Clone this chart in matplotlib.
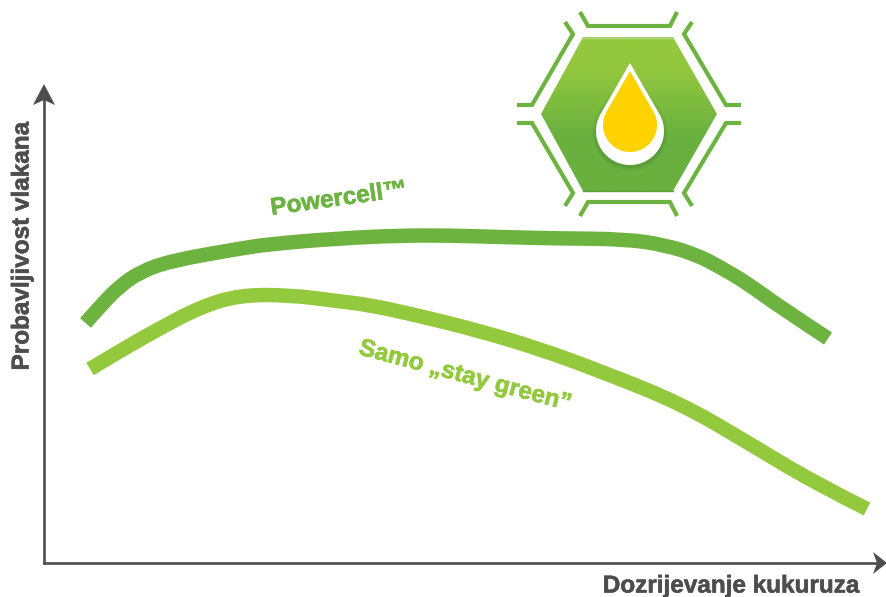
import numpy as np
import matplotlib
matplotlib.use('Agg')
import matplotlib.pyplot as plt
import matplotlib.patheffects as pe
from matplotlib.colors import LinearSegmentedColormap
from matplotlib.patches import Polygon, PathPatch
from matplotlib.path import Path

plt.rcParams['font.family'] = ['Liberation Sans', 'DejaVu Sans']

# curves, in pixels
powercell_x = [85.5, 103, 120, 140, 170, 237, 270, 337, 400, 450, 500, 560, 625, 665, 697, 720, 747, 780, 828]
powercell_y = [323, 303, 286, 272, 261, 249, 244, 238.5, 235.5, 235.5, 237, 238.5, 239, 245, 255, 267, 283, 307, 338.5]
staygreen_x = [90, 120, 153, 200, 240, 290, 337, 370, 420, 480, 540, 600, 680, 747, 813, 867]
staygreen_y = [369, 351, 332, 307, 295, 295, 301, 305, 316, 331, 349, 371, 403, 442, 482, 509]

x_label = 'Dozrijevanje kukuruza'
y_label = 'Probavljivost vlakana'
powercell_label = 'Powercell\u2122'
staygreen_label = 'Samo \u201estay green\u201d'

dark_green = '#6cb33f'
light_green = '#93c93d'
grey = '#4d4d4d'

# icon outline
hexagon = [(541, 114), (583, 37), (673, 37), (717, 114), (673, 191), (583, 191)]
brackets = [
    [(580, 12), (588, 26), (670, 26), (677, 12)],
    [(565, 22), (573, 34), (532, 105), (517, 105)],
    [(692, 22), (684, 34), (726, 105), (741, 105)],
    [(517, 123), (532, 123), (573, 193), (565, 206)],
    [(741, 123), (726, 123), (684, 193), (692, 206)],
    [(580, 216), (588, 202), (670, 202), (677, 216)],
]


def drop(tip_y, cx, cy, r):
    # teardrop: circle with two tangents up to the tip
    a = np.arcsin(r / (cy - tip_y))
    t = np.linspace(a, -np.pi - a, 80)
    pts = [(cx, tip_y)]
    pts += [(cx + r * np.cos(v), cy - r * np.sin(v)) for v in t]
    return pts


def smooth_path(xs, ys):
    # quadratic pieces with the read points as control points
    pts = list(zip(xs, ys))
    verts = [pts[0]]
    codes = [Path.MOVETO]
    for i in range(1, len(pts) - 1):
        if i < len(pts) - 2:
            end = ((pts[i][0] + pts[i + 1][0]) / 2, (pts[i][1] + pts[i + 1][1]) / 2)
        else:
            end = pts[i + 1]
        verts += [pts[i], end]
        codes += [Path.CURVE3, Path.CURVE3]
    return Path(verts, codes)


fig = plt.figure(figsize=(8.87, 5.97), dpi=100)
ax = fig.add_axes([0, 0, 1, 1])

# curves
ax.add_patch(PathPatch(smooth_path(powercell_x, powercell_y), fc='none', ec=dark_green, lw=10.4, capstyle='butt'))
ax.add_patch(PathPatch(smooth_path(staygreen_x, staygreen_y), fc='none', ec=light_green, lw=10.4, capstyle='butt'))

# axes
ax.plot([44, 44], [563, 100], color=grey, lw=1.9)
ax.plot([44, 878], [563, 563], color=grey, lw=1.9)
ax.add_patch(Polygon([(44, 84), (55, 105), (44, 100), (33, 105)], color=grey, lw=0))
ax.add_patch(Polygon([(887, 563), (873, 574), (877, 563), (873, 552)], color=grey, lw=0))

# a thin stroke makes the bold face as heavy as in the picture
heavy = [pe.withStroke(linewidth=0.4, foreground=grey)]
ax.text(860, 586, x_label, color=grey, fontsize=17.5, fontweight='bold', ha='right', va='center', path_effects=heavy)
ax.text(22, 246, y_label, color=grey, fontsize=17.5, fontweight='bold', rotation=90, ha='center', va='center', path_effects=heavy)
ax.text(339, 199, powercell_label, color=dark_green, fontsize=17.5, fontweight='bold', rotation=8,
        ha='center', va='center', rotation_mode='anchor',
        path_effects=[pe.withStroke(linewidth=0.4, foreground=dark_green)])
ax.text(465, 376, staygreen_label, color=light_green, fontsize=17.5, fontweight='bold', rotation=-15,
        ha='center', va='center', rotation_mode='anchor',
        path_effects=[pe.withStroke(linewidth=0.4, foreground=light_green)])

# icon
for b in brackets:
    ax.plot([p[0] for p in b], [p[1] for p in b], color=dark_green, lw=3, solid_joinstyle='miter', solid_capstyle='butt')

cmap = LinearSegmentedColormap.from_list('hex', [(0, '#93c83e'), (0.2, '#93c83e'), (0.65, '#69b03f'), (1, '#69b03f')])
hex_patch = Polygon(hexagon, closed=True, transform=ax.transData, fc='none', ec='none')
ax.add_patch(hex_patch)
img = ax.imshow(np.linspace(0, 1, 200).reshape(-1, 1), cmap=cmap, extent=(541, 717, 191, 37), aspect='auto', zorder=3)
img.set_clip_path(hex_patch)
ax.plot([583, 673], [37.5, 37.5], color='#b7da85', lw=1, zorder=4)
ax.plot([583, 673], [190.5, 190.5], color='#5a9e38', lw=1, zorder=4)

# drop, shadow first
for grow, alpha in [(4, 0.08), (2.5, 0.12), (1, 0.2)]:
    ax.add_patch(Polygon(drop(66, 630, 133, 34 + grow), color='#3f7f2a', alpha=alpha, lw=0, zorder=5))
ax.add_patch(Polygon(drop(63, 630, 131, 34), color='white', lw=0, zorder=6))
ax.add_patch(Polygon(drop(71, 630, 125, 27), color='#ffd200', lw=0, zorder=7))

ax.set_xlim(0, 887)
ax.set_ylim(597, 0)
ax.axis('off')

fig.savefig('out.png', dpi=100)
